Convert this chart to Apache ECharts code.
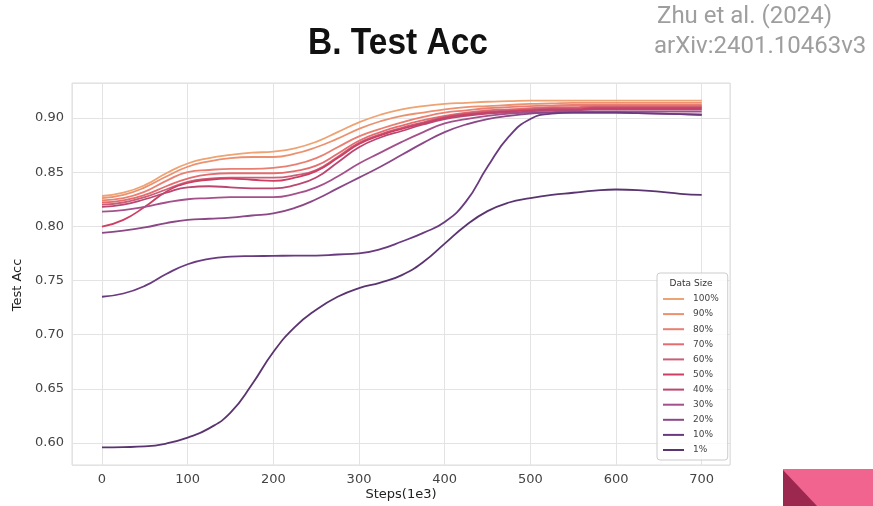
<!DOCTYPE html>
<html><head><meta charset="utf-8">
<script src="https://cdn.jsdelivr.net/npm/echarts@6/dist/echarts.min.js"></script>
<style>html,body{margin:0;padding:0;background:#fff}#c{width:873px;height:506px}</style>
</head><body><div id="c"></div>
<script>
const steps = [0,25,50,75,100,125,150,175,200,225,250,275,300,325,350,375,400,425,450,475,500,525,550,575,600,625,650,675,700];
const sizeNames = ['100%','90%','80%','70%','60%','50%','40%','30%','20%','10%','1%'];
const acc100 = [0.828,0.831,0.838,0.849,0.858,0.863,0.866,0.868,0.869,0.872,0.878,0.887,0.896,0.903,0.908,0.911,0.913,0.914,0.915,0.9155,0.916,0.916,0.916,0.916,0.916,0.916,0.916,0.916,0.916];
const acc90  = [0.826,0.829,0.836,0.846,0.855,0.860,0.863,0.864,0.864,0.867,0.873,0.881,0.890,0.897,0.902,0.905,0.908,0.910,0.911,0.912,0.913,0.9135,0.914,0.914,0.914,0.914,0.914,0.914,0.914];
const acc80  = [0.824,0.826,0.832,0.842,0.850,0.852,0.853,0.853,0.854,0.857,0.863,0.873,0.883,0.890,0.896,0.901,0.905,0.907,0.909,0.910,0.911,0.9115,0.912,0.912,0.912,0.912,0.912,0.912,0.912];
const acc70  = [0.822,0.824,0.829,0.837,0.844,0.848,0.849,0.849,0.849,0.851,0.856,0.867,0.879,0.887,0.893,0.898,0.902,0.905,0.907,0.908,0.909,0.910,0.910,0.911,0.911,0.911,0.911,0.911,0.911];
const acc60  = [0.820,0.822,0.827,0.834,0.841,0.844,0.845,0.845,0.845,0.847,0.852,0.864,0.877,0.885,0.891,0.896,0.901,0.904,0.906,0.907,0.908,0.909,0.909,0.910,0.910,0.910,0.910,0.910,0.910];
const acc50  = [0.7997,0.806,0.818,0.832,0.840,0.843,0.844,0.843,0.842,0.845,0.851,0.863,0.876,0.884,0.890,0.895,0.900,0.903,0.905,0.906,0.907,0.908,0.908,0.909,0.909,0.909,0.909,0.909,0.909];
const acc40  = [0.818,0.820,0.825,0.831,0.836,0.837,0.836,0.835,0.835,0.838,0.845,0.859,0.873,0.882,0.888,0.894,0.899,0.902,0.904,0.905,0.906,0.907,0.907,0.908,0.908,0.908,0.908,0.908,0.908];
const acc30  = [0.8135,0.815,0.818,0.822,0.825,0.826,0.827,0.827,0.827,0.830,0.836,0.846,0.858,0.868,0.878,0.887,0.895,0.899,0.902,0.904,0.905,0.9055,0.906,0.906,0.906,0.906,0.906,0.906,0.906];
const acc20  = [0.794,0.796,0.799,0.803,0.806,0.807,0.808,0.810,0.812,0.817,0.825,0.835,0.845,0.855,0.866,0.877,0.887,0.894,0.899,0.902,0.904,0.905,0.905,0.905,0.905,0.9045,0.904,0.9035,0.903];
const acc10  = [0.735,0.738,0.745,0.756,0.765,0.770,0.772,0.7725,0.7727,0.773,0.773,0.774,0.775,0.779,0.786,0.794,0.804,0.823,0.855,0.883,0.899,0.904,0.905,0.905,0.905,0.9045,0.904,0.9035,0.903];
const acc1   = [0.596,0.5962,0.5968,0.5995,0.605,0.6135,0.628,0.654,0.684,0.707,0.723,0.735,0.743,0.748,0.755,0.767,0.784,0.801,0.814,0.822,0.826,0.829,0.831,0.833,0.834,0.8335,0.832,0.830,0.829];
const allAcc = [acc100,acc90,acc80,acc70,acc60,acc50,acc40,acc30,acc20,acc10,acc1];
const colors = ['#eea373','#ec9170','#e97f72','#e46c6e','#c95e78','#cc3f63','#bb466f','#a4508a','#8b4786','#6a3a80','#5a3470'];

const chart = echarts.init(document.getElementById('c'));
const grid = {left:72, top:83, width:658, height:382};
const series = sizeNames.map((n,i)=>({
  name:n, type:'line', smooth:0.5, showSymbol:false, symbol:'none',
  data: steps.map((s,j)=>[s, allAcc[i][j]]),
  lineStyle:{width:1.8, color:colors[i]}, itemStyle:{color:colors[i]},
  emphasis:{disabled:true}, z:2+i
}));
chart.setOption({
  animation:false,
  grid:{...grid, show:true, borderColor:'#dddddd', borderWidth:1, backgroundColor:'#fff'},
  xAxis:{type:'value', min:-35, max:733, splitNumber:8,
    axisLine:{show:false}, axisTick:{show:false},
    splitLine:{show:true, lineStyle:{color:'#e3e3e3', width:1}},
    axisLabel:{margin:8, fontFamily:'DejaVu Sans', fontSize:13, color:'#444',
      formatter:v=> (Math.abs(v%100)<1e-6 ? String(v) : '')}},
  yAxis:{type:'value', min:0.5797, max:0.9323, splitNumber:7,
    axisLine:{show:false}, axisTick:{show:false},
    splitLine:{show:true, lineStyle:{color:'#e3e3e3', width:1}},
    axisLabel:{margin:8, fontFamily:'DejaVu Sans', fontSize:13, color:'#444',
      formatter:v=> (Math.abs(v*20-Math.round(v*20))<1e-6 ? v.toFixed(2) : '')}},
  legend:{orient:'vertical', left:657, top:273, padding:[21,9,5,6], itemGap:5.1,
    itemWidth:21, itemHeight:2, icon:'rect',
    backgroundColor:'rgba(255,255,255,0.85)', borderColor:'#cccccc', borderWidth:1, borderRadius:3,
    textStyle:{fontFamily:'DejaVu Sans', fontSize:9, lineHeight:10, color:'#444', padding:[0,0,0,4]},
    data:sizeNames},
  graphic:[
    {type:'text', x:398, y:44.5, scaleX:0.93, style:{text:'B. Test Acc', x:0, y:0, align:'center', verticalAlign:'middle',
      font:'bold 36px "Liberation Sans", sans-serif', fill:'#111'}},
    {type:'text', style:{text:'Zhu et al. (2024)', x:657, y:17, align:'left', verticalAlign:'middle',
      font:'24px Roboto, sans-serif', fill:'#9e9e9e'}},
    {type:'text', style:{text:'arXiv:2401.10463v3', x:654, y:47, align:'left', verticalAlign:'middle',
      font:'24px Roboto, sans-serif', fill:'#9e9e9e'}},
    {type:'text', style:{text:'Data Size', x:691, y:284, align:'center', verticalAlign:'middle',
      font:'9px "DejaVu Sans"', fill:'#333'}, z:100},
    {type:'text', rotation:Math.PI/2, x:18, y:285, style:{text:'Test Acc', align:'center', verticalAlign:'middle',
      font:'13px "DejaVu Sans"', fill:'#222'}},
    {type:'text', style:{text:'Steps(1e3)', x:401, y:495, align:'center', verticalAlign:'middle',
      font:'13px "DejaVu Sans"', fill:'#222'}},
    {type:'polygon', shape:{points:[[783,469],[873,469],[873,506],[783,506]]}, style:{fill:'#f0648f'}},
    {type:'polygon', shape:{points:[[783,470],[817,506],[783,506]]}, style:{fill:'#9c2850'}}
  ],
  series
});
</script></body></html>
